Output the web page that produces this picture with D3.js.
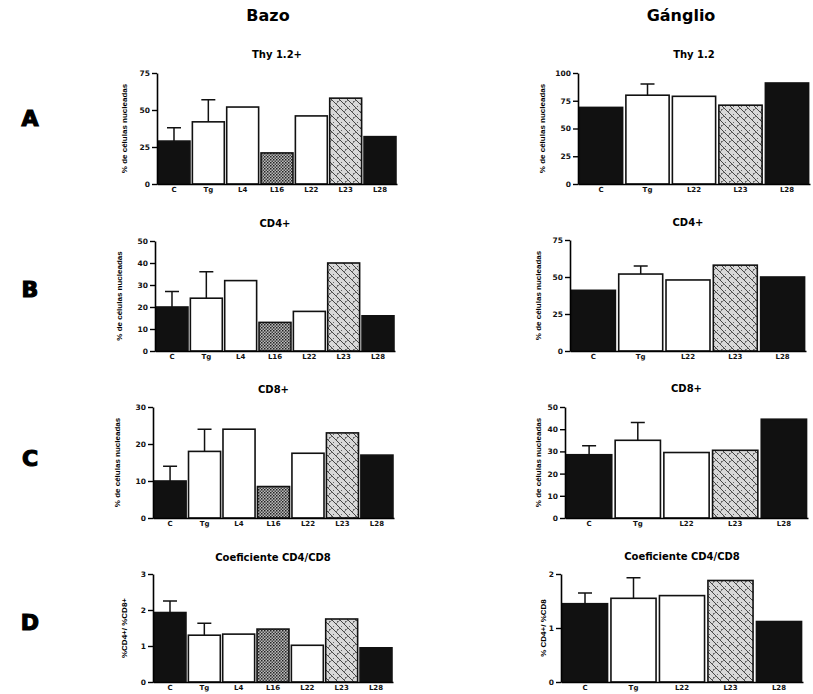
<!DOCTYPE html>
<html>
<head>
<meta charset="utf-8">
<script src="https://cdn.jsdelivr.net/npm/d3@7"></script>
<style>
  body { margin: 0; background: #fff; }
  svg { font-family: "Liberation Sans", Arial, sans-serif; }
  .tick text { font-weight: bold; font-family: "DejaVu Sans", sans-serif; fill: #111; }
</style>
</head>
<body>
<svg id="chart" width="813" height="694"></svg>
<script>
// categories
const bazoCats = ['C', 'Tg', 'L4', 'L16', 'L22', 'L23', 'L28'];
const gangCats = ['C', 'Tg', 'L22', 'L23', 'L28'];

// Bazo (spleen) values, error = upper bar length
const bazoThy = [29, 42, 52, 21, 46, 58, 32];
const bazoThyErr = [9, 15, 0, 0, 0, 0, 0];
const bazoCD4 = [20, 24, 32, 13, 18, 40, 16];
const bazoCD4Err = [7, 12, 0, 0, 0, 0, 0];
const bazoCD8 = [10, 18, 24, 8.5, 17.5, 23, 17];
const bazoCD8Err = [4, 6, 0, 0, 0, 0, 0];
const bazoRatio = [1.93, 1.3, 1.33, 1.47, 1.02, 1.75, 0.95];
const bazoRatioErr = [0.32, 0.33, 0, 0, 0, 0, 0];

// Ganglio (lymph node) values
const gangThy = [69, 80, 79, 71, 91];
const gangThyErr = [0, 10, 0, 0, 0];
const gangCD4 = [41, 52, 48, 58, 50];
const gangCD4Err = [0, 5.5, 0, 0, 0];
const gangCD8 = [28.5, 35, 29.5, 30.5, 44.5];
const gangCD8Err = [4, 8, 0, 0, 0];
const gangRatio = [1.45, 1.55, 1.6, 1.88, 1.12];
const gangRatioErr = [0.2, 0.38, 0, 0, 0];

// tick labels
const ticksThyB = [0, 25, 50, 75];
const ticksThyG = [0, 25, 50, 75, 100];
const ticksCD4B = [0, 10, 20, 30, 40, 50];
const ticksCD4G = [0, 25, 50, 75];
const ticksCD8B = [0, 10, 20, 30];
const ticksCD8G = [0, 10, 20, 30, 40, 50];
const ticksRatioB = [0, 1, 2, 3];
const ticksRatioG = [0, 1, 2];

const fills = { C: '#111', Tg: 'white', L4: 'white', L16: 'url(#dots)', L22: 'white', L23: 'url(#hatch)', L28: '#111' };

const panels = [
  { title: 'Thy 1.2+', cats: bazoCats, vals: bazoThy, errs: bazoThyErr, ticks: ticksThyB, ylab: '% de células nucleadas', x0: 157, x1: 397, top: 73, bot: 184, ty: 58, lx: 127 },
  { title: 'Thy 1.2', cats: gangCats, vals: gangThy, errs: gangThyErr, ticks: ticksThyG, ylab: '% de células nucleadas', x0: 578, x1: 810, top: 73, bot: 184, ty: 58, lx: 545 },
  { title: 'CD4+', cats: bazoCats, vals: bazoCD4, errs: bazoCD4Err, ticks: ticksCD4B, ylab: '% de células nucleadas', x0: 155, x1: 395, top: 241, bot: 351, ty: 227, lx: 122 },
  { title: 'CD4+', cats: gangCats, vals: gangCD4, errs: gangCD4Err, ticks: ticksCD4G, ylab: '% de células nucleadas', x0: 570, x1: 806, top: 240, bot: 351, ty: 226, lx: 541 },
  { title: 'CD8+', cats: bazoCats, vals: bazoCD8, errs: bazoCD8Err, ticks: ticksCD8B, ylab: '% de células nucleadas', x0: 153, x1: 394, top: 407, bot: 518, ty: 393, lx: 120 },
  { title: 'CD8+', cats: gangCats, vals: gangCD8, errs: gangCD8Err, ticks: ticksCD8G, ylab: '% de células nucleadas', x0: 565, x1: 808, top: 407, bot: 518, ty: 392, lx: 541 },
  { title: 'Coeficiente CD4/CD8', cats: bazoCats, vals: bazoRatio, errs: bazoRatioErr, ticks: ticksRatioB, ylab: '%CD4+/ %CD8+', x0: 153, x1: 393, top: 574, bot: 682, ty: 561, lx: 127 },
  { title: 'Coeficiente CD4/CD8', cats: gangCats, vals: gangRatio, errs: gangRatioErr, ticks: ticksRatioG, ylab: '% CD4+/ %CD8', x0: 561, x1: 803, top: 574, bot: 682, ty: 560, lx: 546 }
];

const svg = d3.select('#chart');
const defs = svg.append('defs');

// stipple pattern for L16
const dots = defs.append('pattern').attr('id', 'dots')
  .attr('patternUnits', 'userSpaceOnUse').attr('width', 3).attr('height', 3);
dots.append('rect').attr('width', 3).attr('height', 3).attr('fill', '#bbb');
dots.append('rect').attr('width', 1.5).attr('height', 1.5).attr('fill', '#222');
dots.append('rect').attr('x', 1.5).attr('y', 1.5).attr('width', 1.5).attr('height', 1.5).attr('fill', '#444');

// stipple + diagonal hatch for L23
const hatch = defs.append('pattern').attr('id', 'hatch')
  .attr('patternUnits', 'userSpaceOnUse').attr('width', 8).attr('height', 8);
hatch.append('rect').attr('width', 8).attr('height', 8).attr('fill', '#d8d8d8');
hatch.append('rect').attr('x', 1).attr('y', 5).attr('width', 1).attr('height', 1).attr('fill', '#666');
hatch.append('rect').attr('x', 5).attr('y', 2).attr('width', 1).attr('height', 1).attr('fill', '#666');
hatch.append('path').attr('d', 'M0,0 L8,8 M-2,6 L2,10 M6,-2 L10,2')
  .attr('stroke', '#333').attr('stroke-width', 0.9);
hatch.append('path').attr('d', 'M0,8 L4,4')
  .attr('stroke', '#555').attr('stroke-width', 0.7);

// column headers and row letters
svg.append('text').attr('x', 268).attr('y', 21).attr('text-anchor', 'middle')
  .style('font-size', '16px').style('font-weight', 'bold').style('font-family', '"DejaVu Sans", sans-serif').text('Bazo');
svg.append('text').attr('x', 681).attr('y', 21).attr('text-anchor', 'middle')
  .style('font-size', '16px').style('font-weight', 'bold').style('font-family', '"DejaVu Sans", sans-serif').text('Gánglio');

const rows = ['A', 'B', 'C', 'D'];
const rowY = [126, 297, 466, 630];
rows.forEach((r, i) => {
  svg.append('text').attr('x', 30).attr('y', rowY[i]).attr('text-anchor', 'middle')
    .style('font-size', '22px').style('font-weight', 'bold')
    .style('font-family', '"DejaVu Sans", sans-serif')
    .attr('stroke', 'black').attr('stroke-width', 1.2)
    .text(r);
});

panels.forEach(p => {
  const g = svg.append('g');

  const x = d3.scaleBand()
    .domain(p.cats)
    .range([p.x0, p.x1])
    .paddingInner(0.07)
    .paddingOuter(0.03);

  const y = d3.scaleLinear()
    .domain([0, d3.max(p.ticks)])
    .range([p.bot, p.top]);

  // bars
  g.selectAll('.bar')
    .data(p.cats)
    .enter()
    .append('rect')
    .attr('class', 'bar')
    .attr('x', d => x(d))
    .attr('y', (d, i) => y(p.vals[i]))
    .attr('width', x.bandwidth())
    .attr('height', (d, i) => p.bot - y(p.vals[i]))
    .attr('fill', d => fills[d])
    .attr('stroke', '#111')
    .attr('stroke-width', 1.6);

  // error bars (upper only)
  const errs = p.cats.map((c, i) => ({ c, v: p.vals[i], e: p.errs[i] })).filter(d => d.e > 0);
  g.selectAll('.err')
    .data(errs)
    .enter()
    .append('path')
    .attr('d', d => {
      const cx = x(d.c) + x.bandwidth() / 2;
      const yt = y(d.v + d.e);
      return `M${cx},${y(d.v)} V${yt} M${cx - 7},${yt} H${cx + 7}`;
    })
    .attr('fill', 'none')
    .attr('stroke', '#111')
    .attr('stroke-width', 1.5);

  // y axis
  g.append('g')
    .attr('transform', `translate(${p.x0},0)`)
    .call(d3.axisLeft(y).tickValues(p.ticks).tickFormat(d3.format('d'))
      .tickSize(5).tickSizeOuter(0).tickPadding(2))
    .call(a => a.select('.domain').attr('stroke-width', 1.6))
    .call(a => a.selectAll('.tick line').attr('stroke-width', 1.4))
    .call(a => a.selectAll('.tick text').style('font-size', '7.5px'));

  // x axis
  g.append('g')
    .attr('transform', `translate(0,${p.bot})`)
    .call(d3.axisBottom(x).tickSize(0).tickSizeOuter(0).tickPadding(3))
    .call(a => a.select('.domain').attr('stroke-width', 1.6))
    .call(a => a.selectAll('.tick text').style('font-size', '7px'));

  // title
  g.append('text')
    .attr('x', (p.x0 + p.x1) / 2)
    .attr('y', p.ty)
    .attr('text-anchor', 'middle')
    .style('font-size', '10px')
    .style('font-weight', 'bold')
    .style('font-family', '"DejaVu Sans", sans-serif')
    .text(p.title);

  // y label
  g.append('text')
    .attr('transform', `translate(${p.lx},${(p.top + p.bot) / 2}) rotate(-90)`)
    .attr('text-anchor', 'middle')
    .style('font-size', '8px')
    .style('font-weight', 'bold')
    .text(p.ylab);
});
</script>
</body>
</html>
